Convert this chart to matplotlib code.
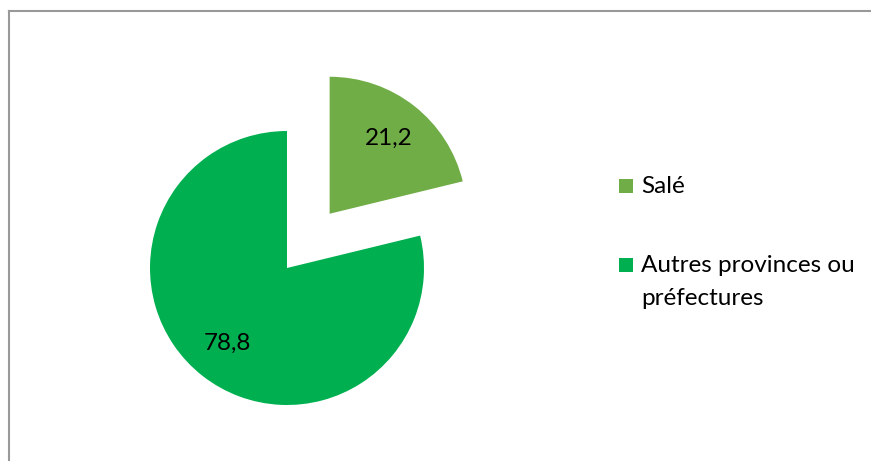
import matplotlib
matplotlib.use('Agg')
import matplotlib.pyplot as plt
from matplotlib.lines import Line2D
from matplotlib.patches import Rectangle

plt.rcParams['font.family'] = ['Lato', 'DejaVu Sans']

labels = ['Salé', 'Autres provinces ou\npréfectures']
values = [21.2, 78.8]
colors = ['#70AD47', '#00B050']

fig = plt.figure(figsize=(8.71, 4.61), dpi=100)
ax = fig.add_axes([0, 0, 1, 1])

# explode is in data units here (radius 137 px)
wedges, texts, autotexts = ax.pie(values, colors=colors, startangle=90, counterclock=False,
                                  explode=[69, 0], center=(287, 193), radius=137,
                                  autopct=lambda p: f'{p:.1f}'.replace('.', ','),
                                  pctdistance=0.7, frame=True,
                                  textprops={'fontsize': 17.5, 'color': 'black'})
ax.set_xlim(0, 871)
ax.set_ylim(0, 461)
ax.set_aspect('equal')
ax.axis('off')

# border of the chart area
fig.add_artist(Line2D([9 / 871, 9 / 871], [0, 1 - 11 / 461], color='#999999', lw=1.5))
fig.add_artist(Line2D([9 / 871, 1], [1 - 11 / 461, 1 - 11 / 461], color='#999999', lw=1.5))

# legend, drawn by hand so the square sits on the first line
leg_y = [461 - 186, 461 - 265]
for lab, col, yy in zip(labels, colors, leg_y):
    ax.add_patch(Rectangle((619, yy - 7), 14, 14, facecolor=col, edgecolor='none'))
    ax.text(641, yy + 10, lab, fontsize=17.5, va='top', ha='left', linespacing=1.7)

fig.savefig('out.png', dpi=100, facecolor='white')
